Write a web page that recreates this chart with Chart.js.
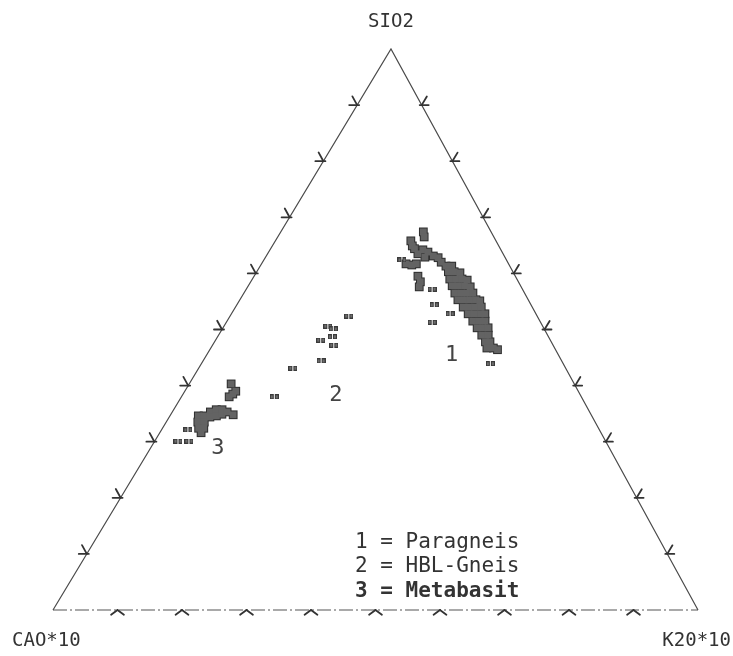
<!DOCTYPE html>
<html>
<head>
<meta charset="utf-8">
<script src="https://cdn.jsdelivr.net/npm/chart.js@4.4.0/dist/chart.umd.min.js"></script>
<style>
  html, body { margin: 0; padding: 0; background: #ffffff; }
  canvas { display: block; }
</style>
</head>
<body>
<canvas id="ternary" width="733" height="656"></canvas>
<script>
// Ternary compositions normalised to 100 %: SiO2 and K2O*10 are listed,
// CaO*10 is the remainder (100 - SiO2 - K2O*10).

// 1 = Paragneis, densely overlapping analyses
const paraCoreSiO2 = [67.4, 66.5, 65.8, 64.9, 64.4, 63.5, 64.2, 63.8, 63.1, 62.8, 62.9, 62.0,
  61.7, 61.5, 61.7, 59.5, 58.5, 57.6,
  61.3, 61.3, 60.3, 60.3, 60.1, 59.0, 59.0, 59.0, 58.8, 57.8, 57.8, 57.8, 57.6,
  56.5, 56.5, 56.5, 56.5, 55.3, 55.3, 55.3, 55.3, 55.1, 54.0, 54.0, 54.0, 54.0,
  52.8, 52.8, 52.8, 52.8, 51.5, 51.5, 51.5, 50.3, 50.3, 50.3, 49.0, 49.0,
  47.8, 47.8, 46.7, 46.7, 46.4];
const paraCoreK2O = [22.1, 22.7, 21.0, 21.7, 22.3, 23.3, 23.7, 24.7, 25.9, 26.8, 24.7, 27.7,
  22.4, 23.4, 24.0, 25.4, 26.3, 26.6,
  28.8, 29.7, 29.7, 30.6, 31.6, 30.6, 31.6, 32.5, 33.4, 31.6, 32.5, 33.5, 34.5,
  32.7, 33.7, 34.6, 35.5, 33.8, 34.8, 35.7, 36.6, 37.3, 35.3, 36.2, 37.1, 38.1,
  36.7, 37.6, 38.6, 39.3, 38.1, 39.1, 40.0, 39.4, 40.3, 41.1, 40.8, 41.8,
  42.0, 42.7, 42.8, 43.8, 44.6];
// 1 = Paragneis, single analyses
const paraSiO2 = [62.4, 57.2, 54.4, 52.8, 51.3, 43.9];
const paraK2O  = [21.4, 28.8, 30.6, 33.9, 31.9, 44.8];

// 2 = HBL-Gneis
const hblSiO2 = [52.4, 50.6, 50.1, 48.1, 48.7, 47.2, 44.4, 43.1, 38.0];
const hblK2O  = [18.4, 16.1, 17.2, 16.3, 17.8, 18.8, 18.3, 14.6, 14.4];

// 3 = Metabasit, densely overlapping analyses
const metaCoreSiO2 = [40.3, 39.0, 38.0, 38.5,
  34.6, 34.6, 33.5, 33.5, 32.4, 32.4, 31.6, 35.3, 35.7, 35.7, 34.4, 34.6, 34.9, 35.3, 34.8];
const metaCoreK2O  = [6.5, 7.9, 7.4, 7.7,
  4.4, 5.3, 4.9, 5.9, 5.6, 6.4, 6.4, 5.9, 6.6, 7.5, 6.3, 7.2, 7.9, 8.5, 9.7];
// 3 = Metabasit, single analyses
const metaSiO2 = [32.1, 30.1, 30.1];
const metaK2O  = [4.1, 3.6, 5.3];

// Grid marks along each side, in percent
const gridSteps = [10, 20, 30, 40, 50, 60, 70, 80, 90];

// Corner and group labels
const apexLabels = { sio2: 'SIO2', cao: 'CAO*10', k2o: 'K20*10' };
const groupNumbers = ['1', '2', '3'];
const groupNames = ['Paragneis', 'HBL-Gneis', 'Metabasit'];

// ---------------------------------------------------------------------------
// Plot geometry: horizontal position of the SiO2 apex along the base (0..1)
const APEX = 0.524;
function toXY(sio2, k2o) {
  return { x: k2o + APEX * sio2, y: sio2 };
}
function points(sArr, kArr) {
  return sArr.map((s, i) => toXY(s, kArr[i]));
}

// Group number anchors (SiO2, K2O*10)
const groupAnchors = [[45.4, 38.0], [38.3, 23.8], [28.9, 10.4]];

// Small paired-square plotter symbol for single analyses
function pairMarker() {
  const c = document.createElement('canvas');
  c.width = 9; c.height = 5;
  const g = c.getContext('2d');
  g.fillStyle = '#3a3a3a';
  g.fillRect(0, 0, 4, 5);
  g.fillRect(5, 0, 4, 5);
  g.fillStyle = '#6c6c6c';
  g.fillRect(1, 1, 2, 3);
  g.fillRect(6, 1, 2, 3);
  return c;
}
const marker = pairMarker();

const INK = '#333333';

// Triangle frame ticks, corner names, group numbers and the key
const ternaryDecor = {
  id: 'ternaryDecor',
  afterDatasetsDraw(chart) {
    const { ctx, scales } = chart;
    const px = (s, k) => {
      const p = toXY(s, k);
      return [scales.x.getPixelForValue(p.x), scales.y.getPixelForValue(p.y)];
    };
    const top = px(100, 0), left = px(0, 0), right = px(0, 100);
    const unit = (a, b) => {
      const dx = b[0] - a[0], dy = b[1] - a[1];
      const l = Math.hypot(dx, dy);
      return [dx / l, dy / l];
    };
    const upLeft = unit(right, top);   // parallel to the K2O side
    const upRight = unit(left, top);   // parallel to the CaO side
    const L = 10;

    ctx.save();
    ctx.strokeStyle = INK;
    ctx.lineWidth = 1.8;
    ctx.lineCap = 'round';
    const arm = (p, d, len) => {
      ctx.beginPath();
      ctx.moveTo(p[0], p[1]);
      ctx.lineTo(p[0] + d[0] * len, p[1] + d[1] * len);
      ctx.stroke();
    };
    gridSteps.forEach(t => {
      // CaO - SiO2 side
      const a = px(t, 0);
      arm(a, upLeft, L);
      arm([a[0] + 2, a[1]], [-1, 0], L);
      // K2O - SiO2 side
      const b = px(t, 100 - t);
      arm(b, upRight, L);
      arm([b[0] - 2, b[1]], [1, 0], L * 0.9);
      // CaO - K2O base
      const c = px(0, t);
      arm(c, [-0.8, 0.6], 8);
      arm(c, [0.8, 0.6], 8);
    });

    ctx.fillStyle = INK;
    ctx.textBaseline = 'alphabetic';

    // corner names
    ctx.font = '19px "DejaVu Sans Mono"';
    ctx.textAlign = 'center';
    ctx.fillText(apexLabels.sio2, top[0], 27);
    ctx.textAlign = 'left';
    ctx.fillText(apexLabels.cao, 12, 646);
    ctx.textAlign = 'right';
    ctx.fillText(apexLabels.k2o, 731, 646);

    // group numbers beside each field
    ctx.font = '22px "DejaVu Sans Mono"';
    ctx.fillStyle = '#444444';
    ctx.textAlign = 'center';
    ctx.textBaseline = 'middle';
    groupAnchors.forEach((g, i) => {
      const p = px(g[0], g[1]);
      ctx.fillText(groupNumbers[i], p[0], p[1]);
    });

    // key
    ctx.textAlign = 'left';
    ctx.textBaseline = 'alphabetic';
    ctx.fillStyle = INK;
    const keyY = [548, 572, 597];
    groupNames.forEach((name, i) => {
      ctx.font = (i === 2 ? 'bold ' : '') + '21px "DejaVu Sans Mono"';
      ctx.fillText(groupNumbers[i] + ' = ' + name, 355, keyY[i]);
    });
    ctx.restore();
  }
};

const corner = (s, k) => toXY(s, k);

new Chart(document.getElementById('ternary'), {
  type: 'scatter',
  data: {
    datasets: [
      // sides SiO2-CaO and SiO2-K2O
      {
        data: [corner(0, 0), corner(100, 0), corner(0, 100)],
        showLine: true, borderColor: '#4a4a4a', borderWidth: 1.2,
        pointRadius: 0, clip: false, order: 10
      },
      // base CaO-K2O
      {
        data: [corner(0, 0), corner(0, 100)],
        showLine: true, borderColor: '#555555', borderWidth: 1.2,
        borderDash: [14, 3, 2, 3], pointRadius: 0, clip: false, order: 10
      },
      // dense fields: dark rim underneath, grey fill on top
      {
        data: points(paraCoreSiO2, paraCoreK2O).concat(points(metaCoreSiO2, metaCoreK2O)),
        pointStyle: 'rect', pointRadius: 6.2, backgroundColor: '#2e2e2e',
        borderWidth: 0, order: 5
      },
      {
        data: points(paraCoreSiO2, paraCoreK2O).concat(points(metaCoreSiO2, metaCoreK2O)),
        pointStyle: 'rect', pointRadius: 4.8, backgroundColor: '#636363',
        borderWidth: 0, order: 4
      },
      // single analyses
      {
        data: points(paraSiO2, paraK2O)
          .concat(points(hblSiO2, hblK2O))
          .concat(points(metaSiO2, metaK2O)),
        pointStyle: marker, pointRadius: 4, order: 3
      }
    ]
  },
  options: {
    responsive: false,
    animation: false,
    events: [],
    layout: { padding: { left: 53, right: 35, top: 49, bottom: 46 } },
    plugins: { legend: { display: false }, tooltip: { enabled: false }, title: { display: false } },
    scales: {
      x: { type: 'linear', min: 0, max: 100, display: false },
      y: { type: 'linear', min: 0, max: 100, display: false }
    }
  },
  plugins: [ternaryDecor]
});
</script>
</body>
</html>
